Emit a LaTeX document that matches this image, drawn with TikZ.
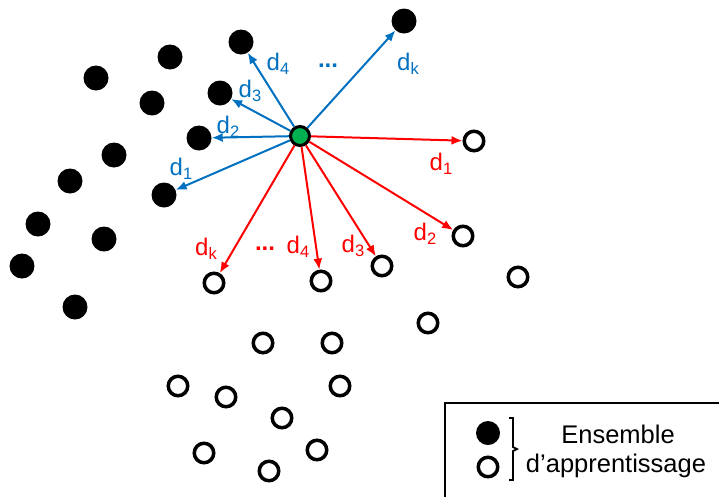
\documentclass[tikz,border=0pt]{standalone}
\usepackage{fontspec}
\setmainfont{Liberation Sans}
\usepackage{tikz}
\usetikzlibrary{arrows.meta}
\definecolor{bleu}{RGB}{0,112,192}
\definecolor{rouge}{RGB}{255,0,0}
\definecolor{vert}{RGB}{0,176,80}
\newcommand{\dist}[1]{d\raisebox{-4pt}{\fontsize{16.5}{16.5}\selectfont #1}}
\tikzset{
  noir/.style={circle, fill=black, minimum size=25pt, inner sep=0pt},
  blanc/.style={circle, draw=black, line width=3.5pt, minimum size=19.5pt, inner sep=0pt},
  requete/.style={circle, fill=vert, draw=black, line width=3pt, minimum size=19pt, inner sep=0pt},
  fbleu/.style={-{Latex[length=11pt, width=9pt]}, line width=2pt, draw=bleu},
  frouge/.style={-{Latex[length=11pt, width=9pt]}, line width=2pt, draw=rouge},
  lbleu/.style={text=bleu, anchor=base, inner sep=0pt, font=\fontsize{24}{24}\selectfont},
  lrouge/.style={text=rouge, anchor=base, inner sep=0pt, font=\fontsize{24}{24}\selectfont},
  legtxt/.style={anchor=base, inner sep=0pt, font=\fontsize{25.5}{29}\selectfont}
}
\begin{document}
\begin{tikzpicture}[x=1pt, y=-1pt]
  \useasboundingbox (0,0) rectangle (719,496);
  % points de l'ensemble d'apprentissage
  \foreach \x/\y [count=\i] in {404/21, 241/42, 220/93, 199/138, 164/195, 170/57, 96/78,
      152/103, 114/155, 70/181, 38/224, 104/239, 22/266, 75/307}
    \node[noir] (b\i) at (\x,\y) {};
  \foreach \x/\y [count=\i] in {474/141, 463/236, 382/266, 321/281, 214/283, 518/277, 428/323,
      263/343, 332/343, 178/386, 226/397, 340/386, 282/418, 204/453, 317/450, 269/471}
    \node[blanc] (w\i) at (\x,\y) {};
  \node[requete] (q) at (300,136) {};
  % distances vers les points noirs
  \draw[fbleu] (q) -- (b5);
  \draw[fbleu] (q) -- (b4);
  \draw[fbleu] (q) -- (b3);
  \draw[fbleu] (q) -- (b2);
  \draw[fbleu] (q) -- (b1);
  \node[lbleu] (bd1) at (181,175) {\dist{1}};
  \node[lbleu] (bd2) at (228,133) {\dist{2}};
  \node[lbleu] (bd3) at (250,97) {\dist{3}};
  \node[lbleu] (bd4) at (278,70) {\dist{4}};
  \node[lbleu] (bdots) at (328,67) {\bfseries ...};
  \node[lbleu] (bdk) at (408,70) {\dist{k}};
  % distances vers les points blancs
  \draw[frouge] (q) -- (w1);
  \draw[frouge] (q) -- (w2);
  \draw[frouge] (q) -- (w3);
  \draw[frouge] (q) -- (w4);
  \draw[frouge] (q) -- (w5);
  \node[lrouge] (rd1) at (441,170) {\dist{1}};
  \node[lrouge] (rd2) at (425,240) {\dist{2}};
  \node[lrouge] (rd3) at (353,252) {\dist{3}};
  \node[lrouge] (rd4) at (298,253) {\dist{4}};
  \node[lrouge] (rdots) at (265,250) {\bfseries ...};
  \node[lrouge] (rdk) at (206,255) {\dist{k}};
  % legende
  \draw[line width=2pt] (445,500) |- (722,403);
  \node[noir, minimum size=24pt] (lnoir) at (488,433) {};
  \node[blanc] (lblanc) at (488,467) {};
  \draw[line width=1.8pt] (509,418) -- (513,418) -- (513,447) -- (517,449) -- (513,451)
    -- (513,480) -- (509,480);
  \node[legtxt] (ens) at (618,443) {Ensemble};
  \node[legtxt] (app) at (616,472) {d’apprentissage};
\end{tikzpicture}
\end{document}
